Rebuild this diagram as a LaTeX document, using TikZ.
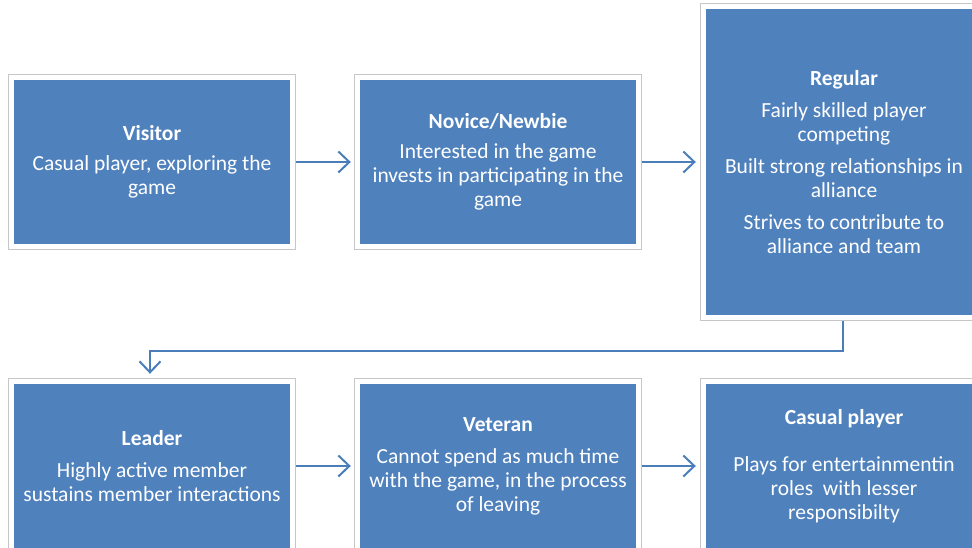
\documentclass[tikz,border=0pt]{standalone}
\usepackage{fontspec}
\setmainfont{Carlito}
\usetikzlibrary{arrows.meta}
\definecolor{boxblue}{HTML}{4F81BD}
\definecolor{arrblue}{HTML}{4A7EBB}
\definecolor{framegray}{HTML}{C6C6C6}
\tikzset{
  box/.style={fill=boxblue, text=white, inner sep=0pt, minimum width=276pt,
    minimum height=164pt, align=center, font=\fontsize{21.5}{24}\selectfont},
  tallbox/.style={box, minimum height=306pt},
  frame/.style={draw=framegray, line width=1pt},
  arr/.style={draw=arrblue, line width=2pt,
    -{Straight Barb[length=11pt,width=21pt,line width=2pt]}}
}
\begin{document}
\begin{tikzpicture}[x=1pt,y=1pt]
\useasboundingbox (0,0) rectangle (972,548);
\clip (0,0) rectangle (972,548);
\fill[white] (0,0) rectangle (972,548);
% boxes
\node[box] (vis) at (152,386) {\textbf{Visitor}\\[6pt]Casual player, exploring the\\game};
\node[box] (nov) at (498,386) {\textbf{Novice/Newbie}\\[6pt]Interested in the game\\invests in participating in the\\game};
\node[tallbox] (reg) at (844,386) {\textbf{Regular}\\[8pt]Fairly skilled player\\competing\\[8pt]Built strong relationships in\\alliance\\[8pt]Strives to contribute to\\alliance and team};
\node[box] (lead) at (152,82) {\textbf{Leader}\\[8pt]Highly active member\\sustains member interactions};
\node[box] (vet) at (498,82) {\textbf{Veteran}\\[8pt]Cannot spend as much time\\with the game, in the process\\of leaving};
\node[box] (cas) at (844,82) {\textbf{Casual player}\\[23pt]Plays for entertainmentin\\roles~ with lesser\\responsibilty};
% outer frames
\foreach \n in {vis,nov,reg,lead,vet,cas}{
  \draw[frame] ([shift={(-5pt,5pt)}]\n.north west) rectangle ([shift={(5pt,-5pt)}]\n.south east);
}
% connectors
\draw[arr] ([xshift=6pt]vis.east) -- ([xshift=-9pt]nov.west);
\draw[arr] ([xshift=6pt]nov.east) -- ([xshift=-10pt]reg.west |- nov.east);
\draw[arr] ([xshift=6pt]lead.east) -- ([xshift=-9pt]vet.west);
\draw[arr] ([xshift=6pt]vet.east) -- ([xshift=-10pt]cas.west |- vet.east);
\draw[arr] ([xshift=-1pt,yshift=-6pt]reg.south) -- ++(0,-30) -| ([xshift=-2pt,yshift=10pt]lead.north);
\end{tikzpicture}
\end{document}
